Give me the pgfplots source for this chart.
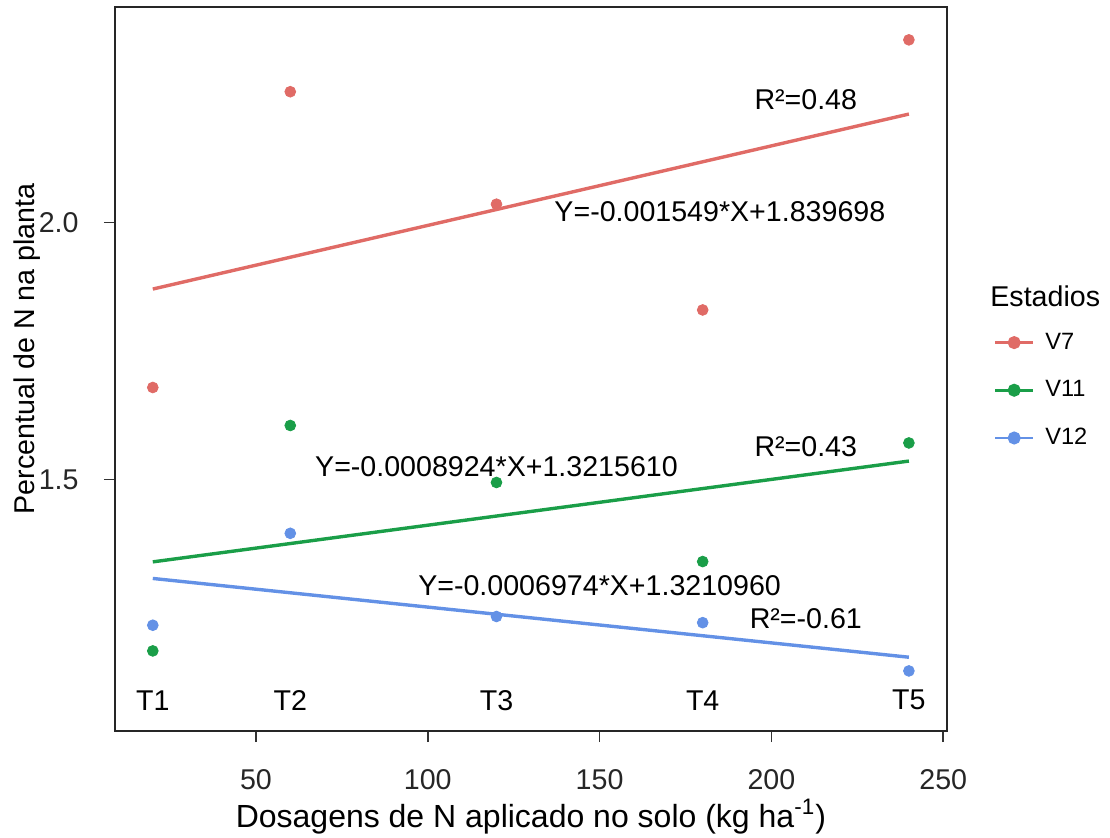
\documentclass[border=0pt]{standalone}
\usepackage{pgfplots}
\pgfplotsset{compat=1.18}
\usepackage{fontspec}
\setmainfont{Liberation Sans}

\definecolor{cV7}{HTML}{E06B66}
\definecolor{cV11}{HTML}{1A9E48}
\definecolor{cV12}{HTML}{6391E6}

% pontos observados por estadio
\pgfplotstableread{
x y
20 1.679
60 2.255
120 2.036
180 1.830
240 2.356
}\vsete
\pgfplotstableread{
x y
20 1.166
60 1.605
120 1.494
180 1.340
240 1.571
}\vonze
\pgfplotstableread{
x y
20 1.216
60 1.395
120 1.233
180 1.221
240 1.127
}\vdoze

\newcommand{\fbig}{\fontsize{14.3}{16}\selectfont}

\begin{document}
\begin{tikzpicture}
\useasboundingbox (-57.5pt,-53pt) rectangle (497.5pt,365.5pt);
\begin{axis}[
  scale only axis, width=415.85pt, height=362pt,
  xmin=9, xmax=251, ymin=1.01, ymax=2.42,
  clip=false,
  axis line style={black!85, line width=0.9pt},
  tick align=outside, major tick length=5.5pt,
  tick style={black!80, line width=0.8pt},
  xtick={50,100,150,200,250}, ytick={1.5,2.0},
  xtick pos=bottom, ytick pos=left,
  /pgf/number format/assume math mode=true,
  yticklabel style={/pgf/number format/fixed, /pgf/number format/fixed zerofill, /pgf/number format/precision=1},
  ticklabel style={font=\fbig, text=black!85},
  xticklabel style={anchor=base, inner sep=0pt, yshift=-23.5pt},
  yticklabel style={anchor=east, inner sep=0pt, xshift=-12.5pt},
  xlabel={Dosagens de N aplicado no solo (kg ha\textsuperscript{-1})},
  xlabel style={at={([yshift=-48pt]rel axis cs:0.5,0)}, anchor=base, font=\fontsize{16}{18}\selectfont, inner sep=0pt},
  ylabel={Percentual de N na planta},
  ylabel style={at={([xshift=-40pt]rel axis cs:0,0.528)}, anchor=base, font=\fbig, inner sep=0pt},
  legend style={draw=none, fill=none, at={(axis description cs:1,0.4705)}, anchor=west,
    xshift=23.3pt, inner sep=0pt, font=\fontsize{11.8}{13}\selectfont, row sep=10.2pt,
    legend cell align=left},
  legend image code/.code={\draw[mark repeat=2, mark phase=2, #1]
    plot coordinates {(0pt,0pt) (9.6pt,0pt) (19.2pt,0pt)};
    \path (22.5pt,0pt);},
]
\addlegendimage{cV7, line width=1.3pt, mark=*, mark size=2.6pt}
\addlegendimage{cV11, line width=1.3pt, mark=*, mark size=2.6pt}
\addlegendimage{cV12, line width=1.3pt, mark=*, mark size=2.6pt}
\legend{V7,V11,V12}

% retas ajustadas
\addplot[cV7, line width=1.7pt] coordinates {(20,1.8707) (240,2.2115)};
\addplot[cV11, line width=1.7pt] coordinates {(20,1.3394) (240,1.5357)};
\addplot[cV12, line width=1.7pt] coordinates {(20,1.3071) (240,1.1537)};

\addplot[only marks, mark=*, mark size=2.7pt, cV7] table {\vsete};
\addplot[only marks, mark=*, mark size=2.7pt, cV11] table {\vonze};
\addplot[only marks, mark=*, mark size=2.7pt, cV12] table {\vdoze};

\node[font=\fbig] at (axis cs:210,2.240) {R²=0.48};
\node[font=\fbig] at (axis cs:185,2.021) {Y=-0.001549*X+1.839698};
\node[font=\fbig] at (axis cs:210,1.564) {R²=0.43};
\node[font=\fbig] at (axis cs:120,1.525) {Y=-0.0008924*X+1.3215610};
\node[font=\fbig] at (axis cs:150,1.294) {Y=-0.0006974*X+1.3210960};
\node[font=\fbig] at (axis cs:210,1.229) {R²=-0.61};

\node[font=\fbig] at (axis cs:20,1.070) {T1};
\node[font=\fbig] at (axis cs:60,1.070) {T2};
\node[font=\fbig] at (axis cs:120,1.070) {T3};
\node[font=\fbig] at (axis cs:180,1.070) {T4};
\node[font=\fbig] at (axis cs:240,1.070) {T5};

\node[font=\fbig, anchor=base west, inner sep=0pt] at ([xshift=21.65pt]axis description cs:1,0.586) {Estadios};
\end{axis}
\end{tikzpicture}
\end{document}
